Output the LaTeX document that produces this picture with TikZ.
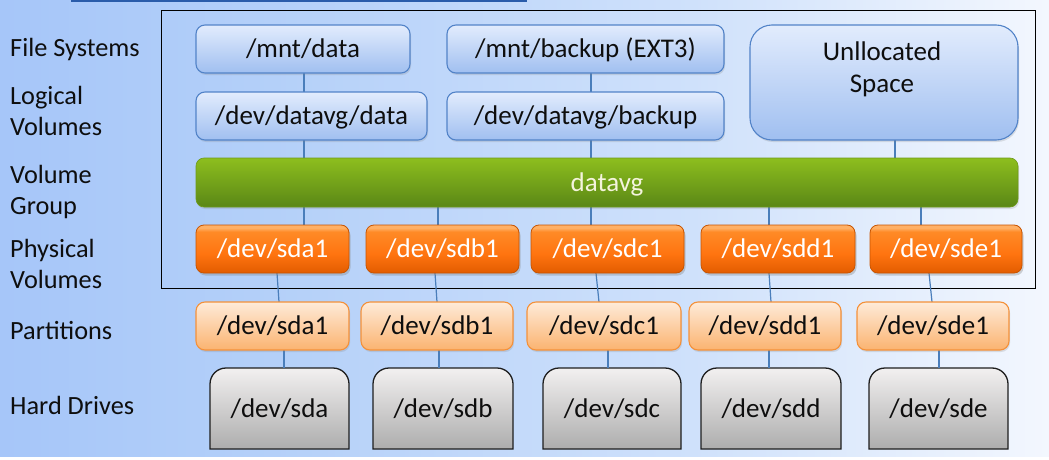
\documentclass[tikz,border=0pt]{standalone}
\usepackage{fontspec}
\setmainfont{Carlito}
\usetikzlibrary{shadows}

\definecolor{bgA}{HTML}{A6C6F9}
\definecolor{bgB}{HTML}{B4D0F9}
\definecolor{bgC}{HTML}{CFE1FB}
\definecolor{bgD}{HTML}{F3F7FE}
\definecolor{blueTop}{HTML}{E2ECFD}
\definecolor{blueBot}{HTML}{A0BFF0}
\definecolor{blueEdge}{HTML}{5283C8}
\definecolor{vgTop}{HTML}{8DBE1E}
\definecolor{vgBot}{HTML}{5A8716}
\definecolor{vgEdge}{HTML}{6E9A1A}
\definecolor{vgText}{HTML}{F4F4DC}
\definecolor{pvHi}{HTML}{FFB066}
\definecolor{pvUp}{HTML}{FF8A26}
\definecolor{pvMid}{HTML}{FF7410}
\definecolor{pvBot}{HTML}{E25C00}
\definecolor{pvEdge}{HTML}{C85400}
\definecolor{ptTop}{HTML}{FEEBD9}
\definecolor{ptBot}{HTML}{FBB370}
\definecolor{ptEdge}{HTML}{F4913A}
\definecolor{hdTop}{HTML}{F2F0F0}
\definecolor{hdBot}{HTML}{ADADAD}
\definecolor{hdEdge}{HTML}{1E1E1E}
\definecolor{connC}{HTML}{4A7EBB}
\definecolor{ink}{HTML}{0E0E0E}
\definecolor{tabEdge}{HTML}{2A5CAA}

\pgfdeclarelayer{back}
\pgfdeclarelayer{mid}
\pgfsetlayers{back,mid,main}

% page backdrop: light blue fading to near white on the right
\pgfdeclarehorizontalshading{bgshade}{100bp}{color(0bp)=(bgA); color(25bp)=(bgA); color(38bp)=(bgB); color(58bp)=(bgC); color(75bp)=(bgD); color(100bp)=(bgD)}
% glossy orange for the physical volumes
\pgfdeclareverticalshading{pvshade}{100bp}{color(0bp)=(pvBot); color(25bp)=(pvBot); color(45bp)=(pvMid); color(68bp)=(pvUp); color(72bp)=(pvHi); color(100bp)=(pvHi)}

% box placed by its corner coordinates: name, style, x1, y1, x2, y2, text
\newcommand\mkbox[7]{%
  \node[#2, minimum width={(#5-#3)*1pt}, minimum height={(#6-#4)*1pt}]
    (#1) at ({(#3+#5)/2},{(#4+#6)/2}) {#7};}

% disk outline: rounded top corners, square bottom
\newcommand\diskshape[1]{%
  \path[diskbody] (#1.south west) -- ([yshift=-16pt]#1.north west)
    to[out=90,in=180] ([xshift=16pt]#1.north west)
    -- ([xshift=-16pt]#1.north east)
    to[out=0,in=90] ([yshift=-16pt]#1.north east)
    -- (#1.south east) -- cycle;}

\tikzset{
  boxfont/.style={font=\fontsize{27}{32}\selectfont, inner sep=0pt, outer sep=0pt},
  boxtext/.style={boxfont, text height=22.5pt, text depth=5.5pt},
  rowlabel/.style={font=\fontsize{26.3}{31.5}\selectfont, text=ink, align=left, anchor=west, inner sep=0pt},
  softshadow/.style={drop shadow={opacity=0.22, shadow xshift=1pt, shadow yshift=-2pt}},
  bluebox/.style={boxtext, rounded corners=9pt, draw=blueEdge, line width=1.1pt,
    top color=blueTop, bottom color=blueBot, text=ink, softshadow},
  freebox/.style={bluebox, rounded corners=22pt},
  groupbar/.style={boxtext, rounded corners=8pt, draw=vgEdge, line width=0.6pt,
    top color=vgTop, bottom color=vgBot, text=vgText, softshadow},
  pvbox/.style={boxtext, rounded corners=8pt, draw=pvEdge, line width=0.8pt,
    shading=pvshade, text=white, drop shadow={opacity=0.35, shadow xshift=1.5pt, shadow yshift=-2.5pt}},
  partbox/.style={boxtext, rounded corners=9pt, draw=ptEdge, line width=1.1pt,
    top color=ptTop, bottom color=ptBot, text=ink, softshadow},
  diskbox/.style={boxtext, text=ink},
  diskbody/.style={draw=hdEdge, line width=1.3pt, top color=hdTop, bottom color=hdBot},
  conn/.style={draw=connC, line width=1.2pt},
}

\begin{document}
\begin{tikzpicture}[x=1pt, y=-1pt]
\useasboundingbox (0,0) rectangle (1049,460);

\begin{pgfonlayer}{back}
  \fill[white] (0,0) rectangle (1049,460);
  \shade[shading=bgshade] (0,0) rectangle (1049,456);
  % edge of the banner above the diagram
  \draw[tabEdge, line width=2pt] (71,0.8) -- (527,0.8);
  % frame round the LVM layers
  \draw[black, line width=1pt] (161.5,10.5) rectangle (1035,288);
\end{pgfonlayer}

% row captions
\node[rowlabel] (lblFS) at (10,49) {File Systems};
\node[rowlabel] (lblLV) at (10,111) {Logical\\Volumes};
\node[rowlabel] (lblVG) at (10,192) {Volume\\Group};
\node[rowlabel] (lblPV) at (10,264) {Physical\\Volumes};
\node[rowlabel] (lblPT) at (10,330.5) {Partitions};
\node[rowlabel] (lblHD) at (10,405) {Hard Drives};

% file systems and logical volumes
\mkbox{fsData}{bluebox}{196}{25}{410}{73}{/mnt/data}
\mkbox{fsBackup}{bluebox}{447}{25}{724}{73}{/mnt/backup (EXT3)}
\mkbox{lvData}{bluebox}{196}{92}{427}{140}{/dev/datavg/data}
\mkbox{lvBackup}{bluebox}{447}{92}{724}{140}{/dev/datavg/backup}
\mkbox{unalloc}{freebox}{750}{25}{1018}{140}{}
\node[boxfont, text=ink, align=center, anchor=north] (unallocText)
  at ([xshift=-2pt,yshift=-16.5pt]unalloc.north) {Unllocated\\Space};

% volume group
\mkbox{vg}{groupbar}{196}{158}{1018}{207}{}
\node[boxtext, text=vgText] (vgText) at (607,182.5) {datavg};

% physical volumes
\mkbox{pvA}{pvbox}{196}{225}{349}{273}{/dev/sda1}
\mkbox{pvB}{pvbox}{366}{225}{519}{273}{/dev/sdb1}
\mkbox{pvC}{pvbox}{531}{225}{684}{273}{/dev/sdc1}
\mkbox{pvD}{pvbox}{701}{225}{855}{273}{/dev/sdd1}
\mkbox{pvE}{pvbox}{870}{225}{1022}{273}{/dev/sde1}

% partitions
\mkbox{ptA}{partbox}{196}{302}{349}{350}{/dev/sda1}
\mkbox{ptB}{partbox}{361}{302}{513}{350}{/dev/sdb1}
\mkbox{ptC}{partbox}{527}{302}{681}{350}{/dev/sdc1}
\mkbox{ptD}{partbox}{689}{302}{841}{350}{/dev/sdd1}
\mkbox{ptE}{partbox}{857}{302}{1009}{350}{/dev/sde1}

% hard drives
\mkbox{hdA}{diskbox}{210}{368}{349}{449}{/dev/sda}
\mkbox{hdB}{diskbox}{373}{368}{513}{449}{/dev/sdb}
\mkbox{hdC}{diskbox}{543}{368}{681}{449}{/dev/sdc}
\mkbox{hdD}{diskbox}{701}{368}{841}{449}{/dev/sdd}
\mkbox{hdE}{diskbox}{869}{368}{1008}{449}{/dev/sde}

\begin{pgfonlayer}{mid}
  \diskshape{hdA}\diskshape{hdB}\diskshape{hdC}\diskshape{hdD}\diskshape{hdE}

  % file systems -> logical volumes -> volume group
  \draw[conn] ([xshift=1pt]fsData.south) -- ([xshift=1pt]fsData.south |- lvData.north);
  \draw[conn] ([xshift=-7.5pt]lvData.south) -- ([xshift=-7.5pt]lvData.south |- vg.north);
  \draw[conn] ([xshift=5.5pt]fsBackup.south) -- ([xshift=5.5pt]fsBackup.south |- lvBackup.north);
  \draw[conn] ([xshift=5.5pt]lvBackup.south) -- ([xshift=5.5pt]lvBackup.south |- vg.north);
  \draw[conn] ([xshift=11pt]unalloc.south) -- ([xshift=11pt]unalloc.south |- vg.north);

  % volume group -> physical volumes
  \draw[conn] ([xshift=31.5pt]pvA.north |- vg.south) -- ([xshift=31.5pt]pvA.north);
  \draw[conn] ([xshift=-4.5pt]pvB.north |- vg.south) -- ([xshift=-4.5pt]pvB.north);
  \draw[conn] ([xshift=-16.5pt]pvC.north |- vg.south) -- ([xshift=-16.5pt]pvC.north);
  \draw[conn] ([xshift=-9pt]pvD.north |- vg.south) -- ([xshift=-9pt]pvD.north);
  \draw[conn] ([xshift=-25pt]pvE.north |- vg.south) -- ([xshift=-25pt]pvE.north);

  % physical volumes -> partitions
  \draw[conn] ([xshift=4.5pt]pvA.south) -- ([xshift=6.5pt]ptA.north);
  \draw[conn] ([xshift=-7.5pt]pvB.south) -- (ptB.north);
  \draw[conn] ([xshift=-11.5pt]pvC.south) -- ([xshift=-5pt]ptC.north);
  \draw[conn] ([xshift=-9pt]pvD.south) -- ([xshift=6pt]ptD.north);
  \draw[conn] ([xshift=-17pt]pvE.south) -- ([xshift=-1pt]ptE.north);

  % partitions -> hard drives
  \draw[conn] ([xshift=11.5pt]ptA.south) -- ([xshift=11.5pt]ptA.south |- hdA.north);
  \draw[conn] ([xshift=2pt]ptB.south) -- ([xshift=2pt]ptB.south |- hdB.north);
  \draw[conn] ([xshift=4pt]ptC.south) -- ([xshift=4pt]ptC.south |- hdC.north);
  \draw[conn] ([xshift=4pt]ptD.south) -- ([xshift=4pt]ptD.south |- hdD.north);
  \draw[conn] ([xshift=6pt]ptE.south) -- ([xshift=6pt]ptE.south |- hdE.north);
\end{pgfonlayer}
\end{tikzpicture}
\end{document}
